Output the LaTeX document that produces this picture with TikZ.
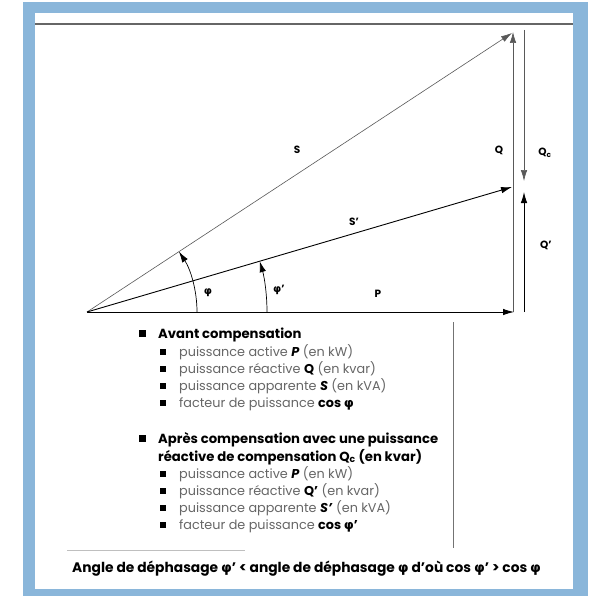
\documentclass[tikz,border=0pt]{standalone}
\usepackage{fontspec}
\setmainfont{Poppins}
\newfontfamily\greekfont{DejaVu Sans}
\usetikzlibrary{arrows.meta, positioning}
\definecolor{frameblue}{RGB}{138,182,218}
\newcommand{\phiv}{{\greekfont φ}}

\begin{document}
\begin{tikzpicture}[
      x=1pt, y=-1pt,
      >={Latex[length=11pt,width=6.5pt]},
      vec/.style={->, draw=black, line width=0.9pt},
      lightvec/.style={->, draw=black!65, line width=0.6pt},
      lbl/.style={font=\fontsize{10.5}{12}\selectfont\bfseries, inner sep=1pt},
      head/.style={anchor=base west, inner sep=0pt, font=\fontsize{13.2}{16}\selectfont\bfseries},
      item/.style={anchor=base west, inner sep=0pt, text=black!60, font=\fontsize{12.8}{14}\selectfont},
      bigsq/.style={fill=black, minimum size=7pt, inner sep=0pt},
      smallsq/.style={fill=black, minimum size=5.5pt, inner sep=0pt}
  ]
      % Frame
      \useasboundingbox (0,0) rectangle (590,596);
      \fill[frameblue] (23,2) rectangle (588,596);
      \fill[white] (35,13) rectangle (573,589);
      \draw[black!60, line width=1.2pt] (35,24) -- (573,24);
      \draw[black!55, line width=0.8pt] (453,322) -- (453,548);
      \draw[black!25, line width=0.6pt] (67,550) -- (245,550);

      % Vector end points
      \coordinate (O) at (87,312);
      \coordinate (Ptip) at (514,312);
      \coordinate (Stip) at (512,33);
      \coordinate (Sptip) at (512,187);
      \coordinate (Qbase) at (513,312);
      \coordinate (Qtip) at (513,32);
      \coordinate (Qctop) at (524,30);
      \coordinate (Qctip) at (524,181);
      \coordinate (Qpbase) at (524,312);
      \coordinate (Qptip) at (524,192);
      \coordinate (phistart) at (197,312);
      \coordinate (phipstart) at (267,312);

      % Vectors
      \draw[vec] (O) -- (Ptip);
      \draw[lightvec] (O) -- (Stip);
      \draw[vec] (O) -- (Sptip);
      \draw[lightvec] (Qbase) -- (Qtip);
      \draw[lightvec] (Qctop) -- (Qctip);
      \draw[vec] (Qpbase) -- (Qptip);

      % Angles
      \draw[vec, line width=0.7pt] (phistart) arc[start angle=0, end angle=-33.3, radius=110];
      \draw[vec, line width=0.7pt] (phipstart) arc[start angle=0, end angle=-16.4, radius=180];

      % Labels
      \node[lbl] (lS) at (297,150) {S};
      \node[lbl] (lSp) at (354,222) {S'};
      \node[lbl] (lP) at (378,294) {P};
      \node[lbl] (lQ) at (499,150) {Q};
      \node[lbl] (lQc) at (545,153) {Q\textsubscript{c}};
      \node[lbl] (lQp) at (546,245) {Q'};
      \node[lbl] (lphi) at (208,293) {\phiv};
      \node[lbl] (lphip) at (279,290) {\phiv'};

      % Before compensation
      \node[bigsq] (b1) at (142,333) {};
      \node[head] (h1) at (158,338) {Avant compensation};
      \node[smallsq] (s1) at (163,352) {};
      \node[item] (a1) at (179,356) {puissance active \textcolor{black}{\textbf{\textit{P}}} (en kW)};
      \node[smallsq] (s2) at (163,369) {};
      \node[item] (a2) at (179,373) {puissance réactive \textcolor{black}{\textbf{Q}} (en kvar)};
      \node[smallsq] (s3) at (163,386) {};
      \node[item] (a3) at (179,390) {puissance apparente \textcolor{black}{\textbf{\textit{S}}} (en kVA)};
      \node[smallsq] (s4) at (163,403) {};
      \node[item] (a4) at (179,407) {facteur de puissance \textcolor{black}{\textbf{cos \phiv}}};

      % After compensation
      \node[bigsq] (b2) at (142,438) {};
      \node[head] (h2) at (158,443) {Après compensation avec une puissance};
      \node[head] (h2b) at (158,461) {réactive de compensation Q\textsubscript{c} (en kvar)};
      \node[smallsq] (t1) at (163,474) {};
      \node[item] (c1) at (179,478) {puissance active \textcolor{black}{\textbf{\textit{P}}} (en kW)};
      \node[smallsq] (t2) at (163,491) {};
      \node[item] (c2) at (179,495) {puissance réactive \textcolor{black}{\textbf{Q'}} (en kvar)};
      \node[smallsq] (t3) at (163,508) {};
      \node[item] (c3) at (179,512) {puissance apparente \textcolor{black}{\textbf{\textit{S'}}} (en kVA)};
      \node[smallsq] (t4) at (163,525) {};
      \node[item] (c4) at (179,529) {facteur de puissance \textcolor{black}{\textbf{cos \phiv'}}};

      % Conclusion
      \node[anchor=base west, inner sep=0pt, font=\fontsize{13.8}{15}\selectfont\bfseries] (concl) at (72,572)
        {Angle de déphasage \phiv' < angle de déphasage \phiv{} d'où cos \phiv' > cos \phiv};
  \end{tikzpicture}
\end{document}
